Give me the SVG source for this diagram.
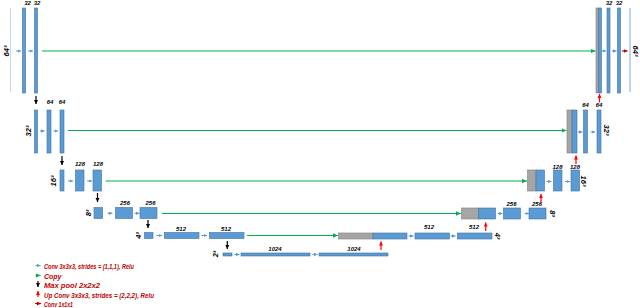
<svg xmlns="http://www.w3.org/2000/svg" width="640" height="308" viewBox="0 0 640 308">
<style>
.bar{fill:#5b9bd5;stroke:#41719c;stroke-width:0.6}
.gray{fill:#a5a5a5;stroke:#7f7f7f;stroke-width:0.6}
.lbl{font-family:"Liberation Sans",Arial,sans-serif;font-weight:bold;font-style:italic;font-size:6px;text-anchor:middle;fill:#000}
.dim{font-family:"Liberation Sans",Arial,sans-serif;font-weight:bold;font-style:italic;font-size:7.5px;text-anchor:middle;fill:#000}
.leg{font-family:"Liberation Sans Narrow","Liberation Sans",Arial,sans-serif;font-weight:bold;font-style:italic;font-size:8px;fill:#c00000}
.cv{stroke:#5b9bd5;stroke-width:1;marker-end:url(#hb)}
.cp{stroke:#00b050;stroke-width:1.2;marker-end:url(#hg)}
.mp{stroke:#000;stroke-width:1.2;marker-end:url(#hk)}
.up{stroke:#ff0000;stroke-width:1.2;marker-end:url(#hr)}
.c1{stroke:#c00000;stroke-width:1.2;marker-end:url(#hd)}
</style>
<defs>
<marker id="hb" markerUnits="userSpaceOnUse" markerWidth="4" markerHeight="4" refX="3.5" refY="1.75" orient="auto"><path d="M0,0 L3.5,1.75 L0,3.5 z" fill="#5b9bd5"/></marker>
<marker id="hg" markerUnits="userSpaceOnUse" markerWidth="6" markerHeight="5" refX="5" refY="2.25" orient="auto"><path d="M0,0 L5,2.25 L0,4.5 z" fill="#00b050"/></marker>
<marker id="hk" markerUnits="userSpaceOnUse" markerWidth="5" markerHeight="5" refX="4" refY="2" orient="auto"><path d="M0,0 L4,2 L0,4 z" fill="#000"/></marker>
<marker id="hr" markerUnits="userSpaceOnUse" markerWidth="5" markerHeight="5" refX="4" refY="2" orient="auto"><path d="M0,0 L4,2 L0,4 z" fill="#ff0000"/></marker>
<marker id="hd" markerUnits="userSpaceOnUse" markerWidth="5" markerHeight="5" refX="4" refY="2" orient="auto"><path d="M0,0 L4,2 L0,4 z" fill="#c00000"/></marker>
</defs>

<!-- Level 1 (64^3) -->
<g id="input"><line x1="10.5" y1="8" x2="10.5" y2="92" stroke="#c5dcf0" stroke-width="1"/><text class="dim" transform="translate(6,51) rotate(-90)" dy="2.5">64³</text></g>
<g id="e1a"><rect class="bar" x="22.5" y="8" width="3" height="85"/><text class="lbl" x="27.5" y="4.5">32</text></g>
<g id="e1b"><rect class="bar" x="34.5" y="8" width="3" height="85"/><text class="lbl" x="37" y="4.5">32</text></g>
<g id="d1cat"><rect class="gray" x="596" y="8" width="2.5" height="85"/><rect class="bar" x="598.5" y="8" width="3" height="85"/></g>
<g id="d1a"><rect class="bar" x="607" y="8" width="3" height="85"/><text class="lbl" x="609" y="4.5">32</text></g>
<g id="d1b"><rect class="bar" x="617.5" y="8" width="3" height="85"/><text class="lbl" x="619" y="4.5">32</text></g>
<g id="output"><line x1="630" y1="8" x2="630" y2="92" stroke="#9dc3e6" stroke-width="1.4"/><text class="dim" transform="translate(635,51) rotate(90)" dy="2.5">64³</text></g>

<!-- Level 2 (32^3) -->
<g id="e2p"><rect class="bar" x="34.5" y="110" width="3" height="43"/><text class="dim" transform="translate(28,131) rotate(-90)" dy="2.5">32³</text></g>
<g id="e2a"><rect class="bar" x="47" y="110" width="4" height="43"/><text class="lbl" x="50" y="104">64</text></g>
<g id="e2b"><rect class="bar" x="60" y="110" width="4" height="43"/><text class="lbl" x="62" y="104">64</text></g>
<g id="d2cat"><rect class="gray" x="567" y="110" width="5" height="43"/><rect class="bar" x="572" y="110" width="5" height="43"/></g>
<g id="d2a"><rect class="bar" x="583.5" y="110" width="4" height="43"/><text class="lbl" x="585.5" y="107">64</text></g>
<g id="d2b"><rect class="bar" x="597" y="110" width="4" height="43"/><text class="lbl" x="599" y="107">64</text><text class="dim" transform="translate(606.5,130) rotate(90)" dy="2.5">32³</text></g>

<!-- Level 3 (16^3) -->
<g id="e3p"><rect class="bar" x="60" y="170" width="4" height="21"/><text class="dim" transform="translate(53,181) rotate(-90)" dy="2.5">16³</text></g>
<g id="e3a"><rect class="bar" x="75.5" y="170" width="8.5" height="21"/><text class="lbl" x="80" y="166">128</text></g>
<g id="e3b"><rect class="bar" x="93" y="170" width="8.5" height="21"/><text class="lbl" x="98" y="166">128</text></g>
<g id="d3cat"><rect class="gray" x="527.5" y="170" width="8.5" height="21"/><rect class="bar" x="536" y="170" width="8.5" height="21"/></g>
<g id="d3a"><rect class="bar" x="553.5" y="170" width="8.5" height="21"/><text class="lbl" x="557.5" y="168.5">128</text></g>
<g id="d3b"><rect class="bar" x="571" y="170" width="8.5" height="21"/><text class="lbl" x="575" y="168.5">128</text><text class="dim" transform="translate(583.5,181) rotate(90)" dy="2.5">16³</text></g>

<!-- Level 4 (8^3) -->
<g id="e4p"><rect class="bar" x="94" y="207.5" width="8.5" height="11"/><text class="dim" transform="translate(88,213) rotate(-90)" dy="2.5">8³</text></g>
<g id="e4a"><rect class="bar" x="115.5" y="207.5" width="17" height="11"/><text class="lbl" x="125" y="205">256</text></g>
<g id="e4b"><rect class="bar" x="140" y="207.5" width="17" height="11"/><text class="lbl" x="150.5" y="205">256</text></g>
<g id="d4cat"><rect class="gray" x="461.5" y="208" width="17" height="11"/><rect class="bar" x="478.5" y="208" width="17" height="11"/></g>
<g id="d4a"><rect class="bar" x="503.5" y="208" width="17" height="11"/><text class="lbl" x="511.5" y="206">256</text></g>
<g id="d4b"><rect class="bar" x="529" y="208" width="17" height="11"/><text class="lbl" x="537" y="206">256</text><text class="dim" transform="translate(552,213.5) rotate(90)" dy="2.5">8³</text></g>

<!-- Level 5 (4^3) -->
<g id="e5p"><rect class="bar" x="144.5" y="232.5" width="8.5" height="6"/><text class="dim" transform="translate(138.5,235.5) rotate(-90)" dy="2.5">4³</text></g>
<g id="e5a"><rect class="bar" x="164.5" y="232.5" width="34.5" height="6"/><text class="lbl" x="181" y="230.5">512</text></g>
<g id="e5b"><rect class="bar" x="209.5" y="232.5" width="34.5" height="6"/><text class="lbl" x="226" y="230.5">512</text></g>
<g id="d5cat"><rect class="gray" x="338.5" y="233" width="34.5" height="6"/><rect class="bar" x="373" y="233" width="34" height="6"/></g>
<g id="d5a"><rect class="bar" x="415" y="233" width="34.5" height="6"/><text class="lbl" x="429" y="229">512</text></g>
<g id="d5b"><rect class="bar" x="457.5" y="233" width="34.5" height="6"/><text class="lbl" x="474" y="229">512</text><text class="dim" transform="translate(497,236) rotate(90)" dy="2.5">4³</text></g>

<!-- Level 6 (2^3) -->
<g id="b6p"><rect class="bar" x="223" y="253" width="9" height="3"/><text class="dim" transform="translate(215,254) rotate(-90)" dy="2.5">2³</text></g>
<g id="b6a"><rect class="bar" x="241" y="253" width="69" height="3"/><text class="lbl" x="275" y="251">1024</text></g>
<g id="b6b"><rect class="bar" x="319" y="253" width="69" height="3"/><text class="lbl" x="354" y="251">1024</text></g>

<g id="connectors">
<line class="cv" x1="16" y1="51" x2="21" y2="51"/>
<line class="cv" x1="28" y1="51" x2="33" y2="51"/>
<line class="cv" x1="602" y1="51" x2="606" y2="51"/>
<line class="cv" x1="612" y1="51" x2="616.5" y2="51"/>
<line class="cv" x1="40" y1="131" x2="44.5" y2="131"/>
<line class="cv" x1="53.5" y1="131" x2="58" y2="131"/>
<line class="cv" x1="578" y1="132" x2="582.5" y2="132"/>
<line class="cv" x1="590.5" y1="132" x2="595" y2="132"/>
<line class="cv" x1="68" y1="181" x2="73" y2="181"/>
<line class="cv" x1="87" y1="181" x2="92" y2="181"/>
<line class="cv" x1="546.5" y1="181.5" x2="551.5" y2="181.5"/>
<line class="cv" x1="565" y1="181.5" x2="570" y2="181.5"/>
<line class="cv" x1="107.5" y1="213.3" x2="112.5" y2="213.3"/>
<line class="cv" x1="134.5" y1="213.3" x2="139.5" y2="213.3"/>
<line class="cv" x1="498" y1="213.5" x2="502.5" y2="213.5"/>
<line class="cv" x1="524.5" y1="213.5" x2="529" y2="213.5"/>
<line class="cv" x1="156.5" y1="235.5" x2="162" y2="235.5"/>
<line class="cv" x1="201.5" y1="235.5" x2="207" y2="235.5"/>
<line class="cv" x1="408.5" y1="236" x2="413.5" y2="236"/>
<line class="cv" x1="450.5" y1="236" x2="455.5" y2="236"/>
<line class="cv" x1="234.5" y1="254.5" x2="239.5" y2="254.5"/>
<line class="cv" x1="312.5" y1="254.5" x2="317.5" y2="254.5"/>
<line class="cp" x1="42" y1="51" x2="595.5" y2="51"/>
<line class="cp" x1="68" y1="130.5" x2="566.5" y2="130.5"/>
<line class="cp" x1="105.5" y1="181" x2="527" y2="181"/>
<line class="cp" x1="162" y1="213.5" x2="461" y2="213.5"/>
<line class="cp" x1="247" y1="235.5" x2="338" y2="235.5"/>
<line class="mp" x1="36" y1="96" x2="36" y2="104"/>
<line class="mp" x1="62" y1="156" x2="62" y2="165"/>
<line class="mp" x1="97.5" y1="193" x2="97.5" y2="202"/>
<line class="mp" x1="148" y1="220" x2="148" y2="228"/>
<line class="mp" x1="227.3" y1="241" x2="227.3" y2="249"/>
<line class="up" x1="381" y1="250" x2="381" y2="241.5"/>
<line class="up" x1="485.7" y1="231" x2="485.7" y2="222.5"/>
<line class="up" x1="541" y1="202.5" x2="541" y2="194"/>
<line class="up" x1="576" y1="164" x2="576" y2="155.5"/>
<line class="up" x1="599.5" y1="102.5" x2="599.5" y2="94"/>
<line class="c1" x1="622" y1="51" x2="627.5" y2="51"/>
</g>

<g id="legend">
<line class="cv" x1="35.5" y1="265.5" x2="40.5" y2="265.5"/>
<text class="leg" x="44" y="268.5" textLength="90" lengthAdjust="spacingAndGlyphs">Conv 3x3x3, strides = (1,1,1), Relu</text>
<line class="cp" x1="35.5" y1="275.5" x2="40.5" y2="275.5"/>
<text class="leg" x="44" y="278.5" textLength="17.5" lengthAdjust="spacingAndGlyphs">Copy</text>
<line class="mp" x1="38" y1="281" x2="38" y2="287"/>
<text class="leg" x="44" y="287.5" textLength="56" lengthAdjust="spacingAndGlyphs">Max pool 2x2x2</text>
<line class="up" x1="38" y1="297" x2="38" y2="291"/>
<text class="leg" x="44" y="297.5" textLength="110" lengthAdjust="spacingAndGlyphs">Up Conv 3x3x3, strides = (2,2,2), Relu</text>
<line class="c1" x1="35" y1="303.5" x2="41" y2="303.5"/>
<text class="leg" x="44" y="306.5" textLength="29" lengthAdjust="spacingAndGlyphs">Conv 1x1x1</text>
</g>
</svg>
